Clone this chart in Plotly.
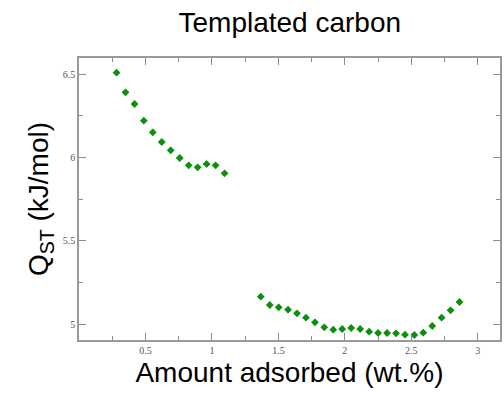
import plotly.graph_objects as go

amount = [0.2825, 0.35, 0.4175, 0.4875, 0.555, 0.6225, 0.69, 0.7575, 0.825, 0.8925,
          0.96, 1.0275, 1.095,
          1.3675, 1.435, 1.5025, 1.5725, 1.64, 1.7075, 1.775, 1.845, 1.9125, 1.98,
          2.0475, 2.115, 2.1825, 2.25, 2.3175, 2.385, 2.4525, 2.5225, 2.59, 2.6575,
          2.7275, 2.795, 2.8625]
qst = [6.508, 6.39, 6.32, 6.22, 6.15, 6.092, 6.042, 5.996, 5.952, 5.94,
       5.96, 5.952, 5.904,
       5.164, 5.114, 5.10, 5.086, 5.064, 5.038, 5.01, 4.98, 4.966, 4.97,
       4.976, 4.97, 4.954, 4.946, 4.946, 4.944, 4.936, 4.934, 4.948, 4.988,
       5.038, 5.082, 5.132]

x_ticks = [0.5, 1, 1.5, 2, 2.5, 3]
x_tick_text = ["0.5", "1", "1.5", "2", "2.5", "3"]
y_ticks = [5, 5.5, 6, 6.5]
y_tick_text = ["5", "5.5", "6", "6.5"]

fig = go.Figure()
fig.add_trace(go.Scatter(
    x=amount, y=qst, mode="markers",
    marker=dict(symbol="diamond", size=6, color="#0a900a"),
    showlegend=False,
))

axis_common = dict(
    showline=True, linecolor="#9a9a9a", linewidth=1.5, mirror="ticks",
    ticks="inside", ticklen=7, tickwidth=1.3, tickcolor="#8a8a8a",
    showgrid=False, zeroline=False,
    tickfont=dict(family="Liberation Serif, Times New Roman, serif", size=10, color="#555"),
    title_font=dict(family="Liberation Sans, Arial, sans-serif", size=28, color="#000"),
)

fig.update_xaxes(
    range=[0, 3.167], tickvals=x_ticks, ticktext=x_tick_text,
    minor=dict(ticks="inside", dtick=0.25, tick0=0, ticklen=4, tickcolor="#8a8a8a", tickwidth=1.2),
    title=dict(text="Amount adsorbed (wt.%)", standoff=8),
    **axis_common,
)
fig.update_yaxes(
    range=[4.904, 6.596], tickvals=y_ticks, ticktext=y_tick_text,
    minor=dict(ticks="inside", dtick=0.25, tick0=0, ticklen=4, tickcolor="#8a8a8a", tickwidth=1.2),
    title=dict(text="Q<sub>ST</sub> (kJ/mol)", standoff=6),
    **axis_common,
)

fig.update_layout(
    width=504, height=398,
    margin=dict(l=79, r=2, t=58, b=58),
    paper_bgcolor="white", plot_bgcolor="white",
    title=dict(text="Templated carbon", x=0.575, xanchor="center", y=0.945, yanchor="middle",
               font=dict(family="Liberation Sans, Arial, sans-serif", size=28, color="#000")),
)

fig.write_html("out.html")
